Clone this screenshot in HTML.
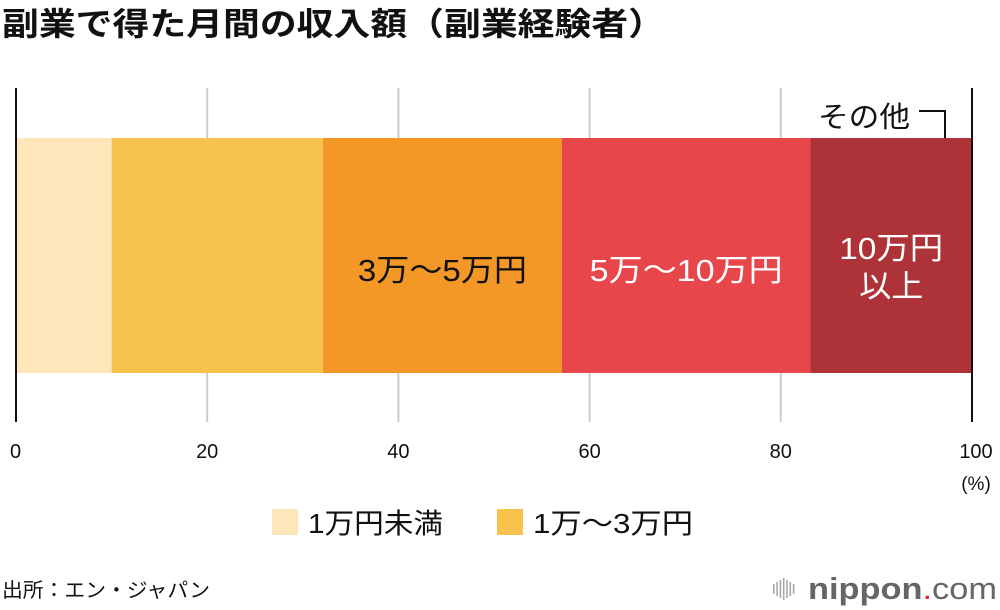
<!DOCTYPE html>
<html><head><meta charset="utf-8"><style>
body{margin:0;background:#fff;font-family:"Liberation Sans","Noto Sans CJK JP",sans-serif;}
#wrap{position:relative;width:1000px;height:610px;overflow:hidden;}
</style></head><body>
<div id="wrap">
<svg width="1000" height="610" id="svg" style="font-family:'Liberation Sans','Noto Sans CJK JP',sans-serif"></svg>
</div>
<script>
const categories=["1万円未満","1万～3万円","3万～5万円","5万～10万円","10万円以上"];
const values=[10.0,22.1,25.0,26.0,16.9];
const colors=["#fde6b9","#f8c34c","#f39726","#e7474a","#ad3338"];
const ticks=[0,20,40,60,80,100];
const svg=document.getElementById('svg');
const NS="http://www.w3.org/2000/svg";
const X0=16,X1=972;
const x=v=>X0+(X1-X0)*v/100;
function mk(t,a,txt){const e=document.createElementNS(NS,t);for(const k in a)e.setAttribute(k,a[k]);if(txt!==undefined)e.textContent=txt;svg.appendChild(e);return e;}
let e;
e=mk('text',{x:2,y:35,'font-size':32,'font-weight':'bold',fill:'#111',textLength:663,lengthAdjust:'spacingAndGlyphs'},'副業で得た月間の収入額（副業経験者）');


ticks.forEach(t=>{
 if(t>0&&t<100){const g=mk('line',{x1:x(t),x2:x(t),y1:88,y2:422,stroke:'#ccc','stroke-width':2});
 
 }
 const l=mk('text',{x:x(t),y:458,'font-size':20,'text-anchor':'middle',fill:'#111'},String(t));
 if(t==0)l.setAttribute('x',x(t)-6);
 if(t==0)l.setAttribute('text-anchor','start');
 if(t==100)l.setAttribute('x',x(t)+4);
 
 
});
e=mk('text',{x:976,y:490,'font-size':19,'text-anchor':'middle',fill:'#111'},'(%)');


let acc=0;
values.forEach((v,i)=>{
 const r=mk('rect',{x:x(acc),y:138,width:x(acc+v)-x(acc),height:235,fill:colors[i]});
 
 
 const cx=(x(acc)+x(acc+v))/2;
 if(i==2||i==3){const t=mk('text',{x:cx,y:281,'font-size':31,'text-anchor':'middle',fill:i==2?'#111':'#fff',textLength:i==2?169:193,lengthAdjust:'spacingAndGlyphs'},categories[i]);
  
  }
 if(i==4){['10万円','以上'].forEach((s,j)=>{const t=mk('text',{x:cx,y:259+j*38,'font-size':31,'text-anchor':'middle',fill:'#fff',textLength:j?64:104,lengthAdjust:'spacingAndGlyphs'},s);
  
  });}
 acc+=v;
});
[X0,X1].forEach((p,i)=>{const a=mk('line',{x1:p,x2:p,y1:88,y2:422,stroke:'#111','stroke-width':2});
 
 });
e=mk('text',{x:818,y:127,'font-size':29,fill:'#111',textLength:92,lengthAdjust:'spacingAndGlyphs'},'その他');


e=mk('path',{d:'M919 111 H945 V138',stroke:'#111','stroke-width':2,fill:'none'});


[[272,0,135],[497,1,160]].forEach(([lx,i,w])=>{
 const r=mk('rect',{x:lx,y:509,width:26,height:26,fill:colors[i]});
 
 
 const t=mk('text',{x:lx+36,y:533,'font-size':28,fill:'#111',textLength:w,lengthAdjust:'spacingAndGlyphs'},categories[i]);
 
 
});
e=mk('text',{x:2,y:597,'font-size':20,fill:'#111',textLength:208,lengthAdjust:'spacingAndGlyphs'},'出所：エン・ジャパン');


for(let k=0;k<7;k++){const b=mk('rect',{x:773+k*3.3,y:578+Math.abs(3-k)*2,width:1.6,height:22-Math.abs(3-k)*4,fill:'#aaa'});
 
 }
e=mk('text',{x:808,y:599,'font-size':31,fill:'#666',textLength:189,lengthAdjust:'spacingAndGlyphs'});


e.innerHTML='<tspan font-weight="bold">nippon</tspan><tspan fill="#e8202a">.</tspan><tspan>com</tspan>';
</script>
</body></html>
